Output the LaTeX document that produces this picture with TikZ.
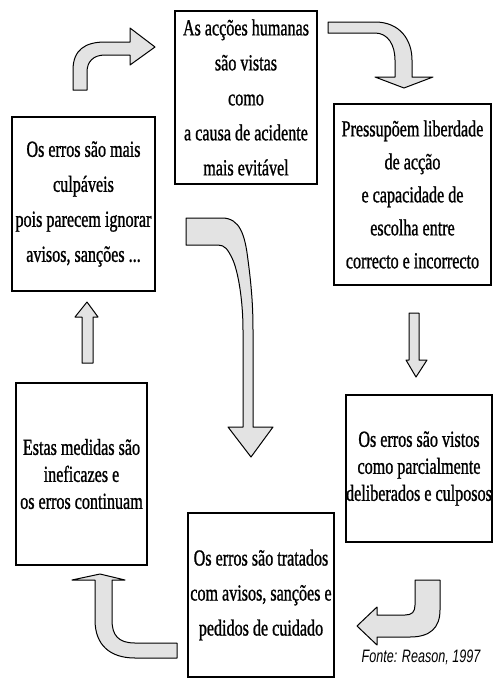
\documentclass[tikz,border=0pt]{standalone}
\usepackage{fontspec}
\setmainfont{Liberation Serif}[FakeStretch=0.7,FakeBold=1]
\newfontfamily\srcfont{Liberation Sans}[FakeStretch=0.7]

\begin{document}
\begin{tikzpicture}[x=1pt,y=-1pt,
  box/.style={draw,line width=1.3pt,align=center,inner sep=0pt,font=\fontsize{23}{27}\selectfont},
  loose/.style={font=\fontsize{23}{35}\selectfont}]
\tikzset{blockarrow/.style={draw,line width=1pt,fill=gray!22,line join=round}}
\useasboundingbox (0,0) rectangle (493,678);

\node[box,loose,minimum width=142pt,minimum height=173pt] (humanas) at (246,97.5)
  {As acções humanas\\são vistas\\como\\a causa de acidente\\mais evitável};
\node[box,font=\fontsize{23}{33}\selectfont,minimum width=157pt,minimum height=181pt] (liberdade) at (412.5,194.5)
  {Pressupõem liberdade\\de acção\\e capacidade de\\escolha entre\\correcto e incorrecto};
\node[box,minimum width=146pt,minimum height=147pt] (vistos) at (419,468.5)
  {Os erros são vistos\\como parcialmente\\deliberados e culposos};
\node[box,loose,minimum width=146pt,minimum height=164pt] (tratados) at (261,595)
  {Os erros são tratados\\com avisos, sanções e\\pedidos de cuidado};
\node[box,minimum width=131pt,minimum height=182pt] (medidas) at (81.5,474)
  {Estas medidas são\\ineficazes e\\os erros continuam};
\node[box,loose,minimum width=143pt,minimum height=174pt] (culpaveis) at (83.5,204)
  {Os erros são mais\\culpáveis\\pois parecem ignorar\\avisos, sanções ...};
\node[font=\srcfont\itshape\fontsize{18}{20}\selectfont] (fonte) at (421,657) {Fonte: Reason, 1997};

% culpaveis -> humanas
\draw[blockarrow] (73,90) -- (73,70) .. controls (73,50) and (85,42) .. (105,42) -- (130,42)
  -- (130,28) -- (155,47) -- (130,65) -- (130,55) -- (105,55)
  .. controls (93,55) and (87,62) .. (87,72) -- (87,90) -- cycle;
% humanas -> liberdade
\draw[blockarrow] (328,22) -- (375,22) .. controls (400,22) and (412,40) .. (412,60) -- (412,77)
  -- (433,77) -- (404,88) -- (375,77) -- (395,77) -- (395,60)
  .. controls (395,45) and (388,33) .. (375,33) -- (328,33) -- cycle;
% liberdade -> vistos
\draw[blockarrow] (409,313) -- (419,313) -- (419,360) -- (427,360) -- (416,377)
  -- (406,360) -- (409,360) -- cycle;
% vistos -> tratados
\draw[blockarrow] (415,580) -- (440,580) -- (440,610) .. controls (440,628) and (430,637) .. (410,637)
  -- (377,637) -- (377,645) -- (357,626) -- (377,607) -- (377,615) -- (405,615)
  .. controls (412,615) and (415,612) .. (415,605) -- cycle;
% tratados -> medidas
\draw[blockarrow] (177,643) -- (135,643) .. controls (118,643) and (112,635) .. (112,620) -- (112,580)
  -- (125,580) -- (100,574) -- (72,580) -- (95,580) -- (95,620)
  .. controls (95,645) and (110,658) .. (135,658) -- (177,658) -- cycle;
% medidas -> culpaveis
\draw[blockarrow] (82,363) -- (82,317) -- (75,317) -- (87,302) -- (98,317) -- (93,317)
  -- (93,363) -- cycle;
% humanas -> centre
\draw[blockarrow] (186,218) -- (222,218) .. controls (240,218) and (245,235) .. (248,260)
  .. controls (252,290) and (253,310) .. (253,330) -- (253,427) -- (273,427) -- (251,457)
  -- (228,427) -- (243,427) -- (243,330) .. controls (243,300) and (238,270) .. (232,258)
  .. controls (228,250) and (225,245) .. (218,245) -- (186,245) -- cycle;
\end{tikzpicture}
\end{document}
